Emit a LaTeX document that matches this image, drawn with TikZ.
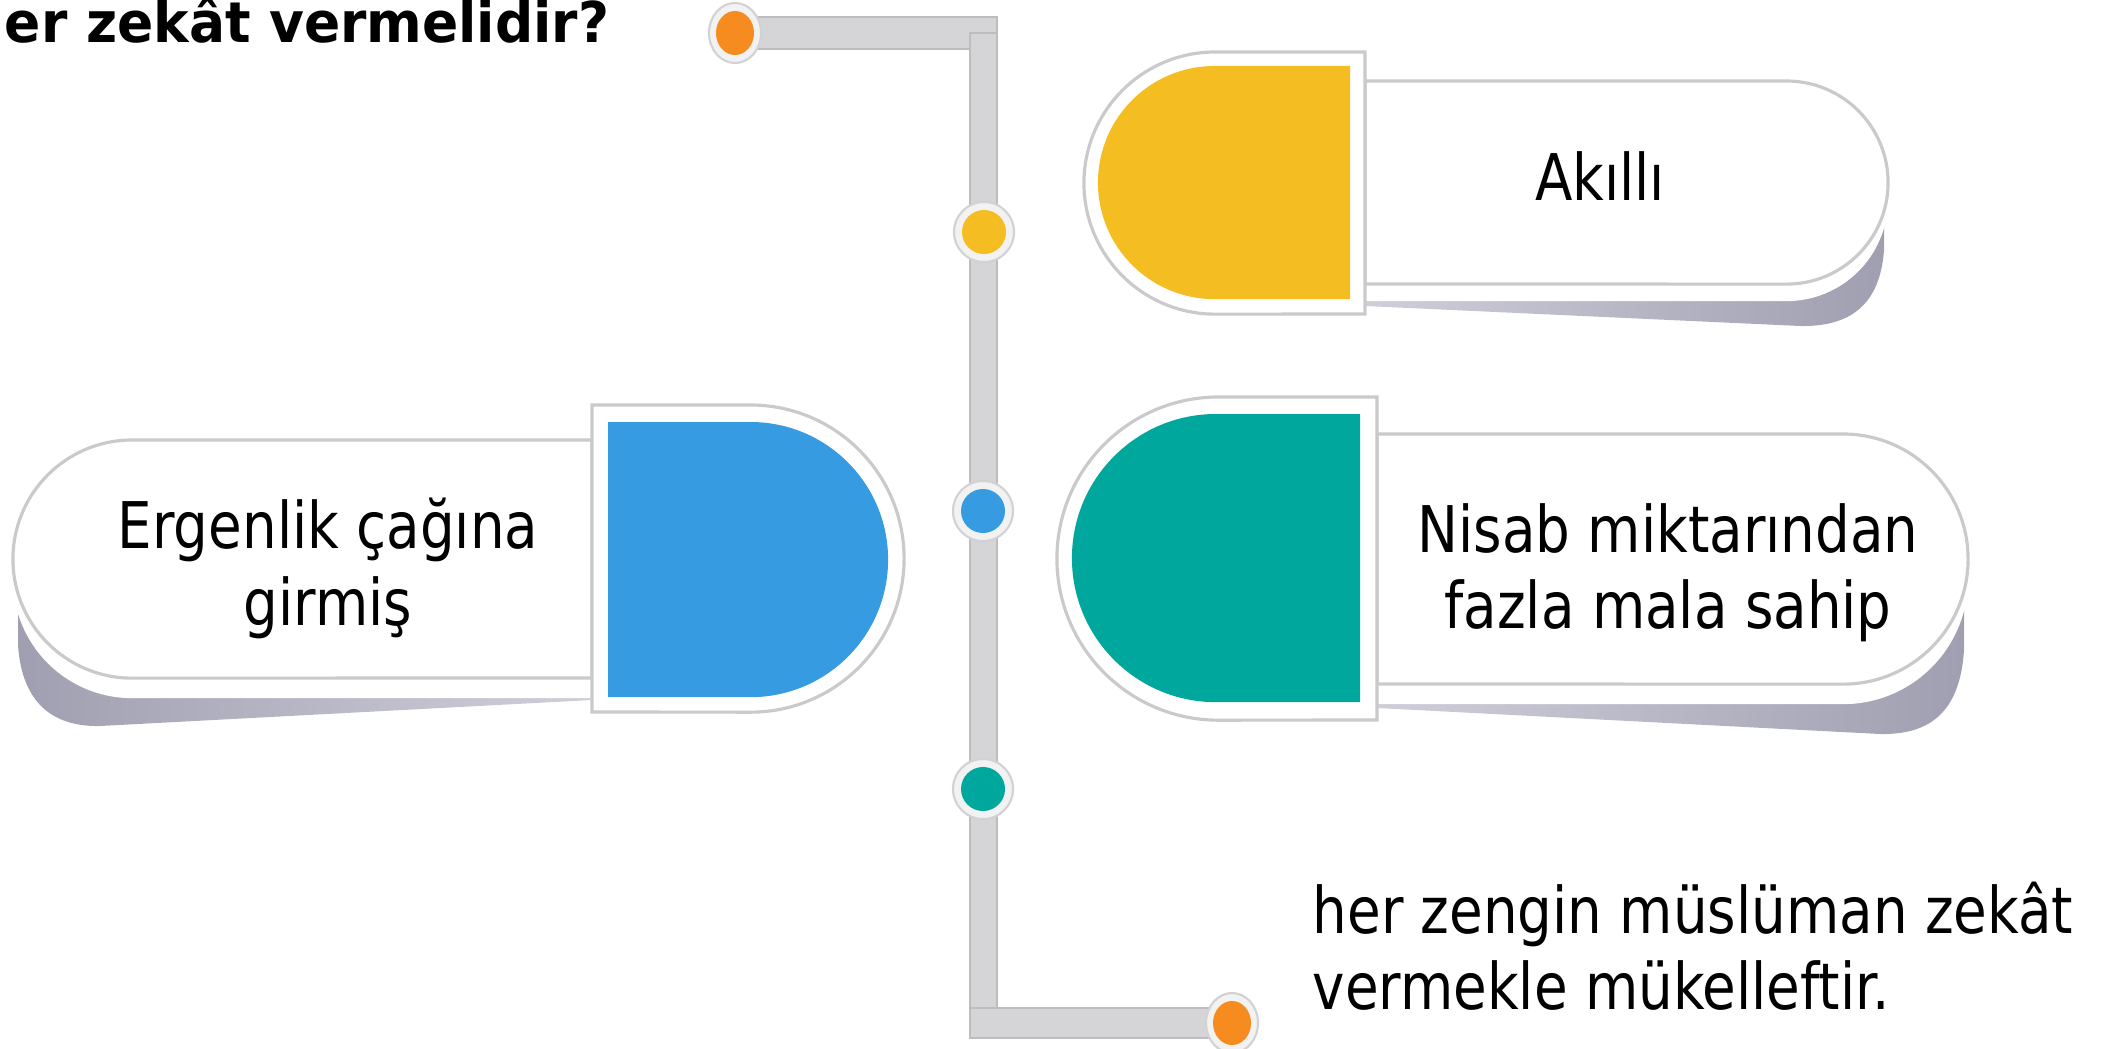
\documentclass[tikz,border=0pt]{standalone}
\usepackage{fontspec}
\setmainfont{DejaVu Sans}[FakeStretch=0.85]
\newfontfamily\titlefont{DejaVu Sans}[FakeStretch=0.95]
\usetikzlibrary{shapes.geometric}
\definecolor{cOrange}{HTML}{F68B1F}
\definecolor{cYellow}{HTML}{F4BE22}
\definecolor{cBlue}{HTML}{369BE1}
\definecolor{cTeal}{HTML}{00A79D}
\definecolor{cLine}{HTML}{CACACC}
\definecolor{cBar}{HTML}{D5D5D7}
\definecolor{cBarEdge}{HTML}{BDBDC0}
\definecolor{cRing}{HTML}{F2F2F2}
\definecolor{cRingEdge}{HTML}{D2D2D4}
\definecolor{shL}{HTML}{CFCED9}
\definecolor{shD}{HTML}{A09FB1}
\tikzset{
  lbl/.style={font=\fontsize{18.3}{22}\selectfont, inner sep=0pt, anchor=base},
  capout/.style={fill=white, draw=cLine, line width=0.9pt},
  pillbox/.style={fill=white, draw=cLine, line width=0.9pt},
  barfill/.style={fill=cBar, draw=cBarEdge, line width=0.4pt},
  dotring/.style={circle, fill=cRing, draw=cRingEdge, line width=0.6pt, minimum size=0.6cm, inner sep=0pt},
  dotcore/.style={circle, minimum size=0.44cm, inner sep=0pt},
  endring/.style={ellipse, fill=cRing, draw=cRingEdge, line width=0.6pt, minimum width=0.52cm, minimum height=0.6cm, inner sep=0pt},
  endcore/.style={ellipse, fill=cOrange, minimum width=0.38cm, minimum height=0.44cm, inner sep=0pt},
}
\begin{document}
\begin{tikzpicture}[x=0.01cm,y=-0.01cm]
\useasboundingbox (0,0) rectangle (2125,1049);

% ---------- title ----------
\node[font=\titlefont\bfseries\fontsize{16}{19}\selectfont, anchor=base east, inner sep=0pt] (title) at (610,43) {er zekât vermelidir?};

% ---------- timeline bars ----------
\coordinate (tl) at (735,33);
\coordinate (br) at (1232,1023);
\filldraw[barfill] (735,17) rectangle (997,49);
\filldraw[barfill] (970,33) rectangle (997,1023);
\filldraw[barfill] (970,1008) rectangle (1232,1038);
\fill[cBar] (971,34) rectangle (996,48);
\fill[cBar] (971,1009) rectangle (996,1022);

% ---------- box 1 : Akilli ----------
\path[left color=shL, right color=shD] (1365,200) -- (1365,306) -- (1800,326) .. controls (1850,327) and (1880,305) .. (1884,250) -- (1884,200) -- cycle;
\fill[white] (1365,98) -- (1786.5,98) arc[start angle=90,end angle=-90,radius=1.015cm] -- (1365,301) -- cycle;
\draw[pillbox] (1365,81) -- (1786.5,81) arc[start angle=90,end angle=-90,radius=1.015cm] -- (1365,284) -- cycle;
\draw[capout] (1365,52) -- (1215,52) arc[start angle=90,end angle=270,radius=1.31cm] -- (1365,314) -- cycle;
\fill[cYellow] (1350,66) -- (1214.5,66) arc[start angle=90,end angle=270,radius=1.165cm] -- (1350,299) -- cycle;
\node[lbl] (t1) at (1600,201) {Akıllı};

% ---------- box 2 : Nisab ----------
\path[left color=shL, right color=shD] (1377,560) -- (1377,708) -- (1880,734) .. controls (1930,735) and (1960,712) .. (1964,650) -- (1964,560) -- cycle;
\fill[white] (1377,454) -- (1843,454) arc[start angle=90,end angle=-90,radius=1.25cm] -- (1377,704) -- cycle;
\draw[pillbox] (1377,434) -- (1843,434) arc[start angle=90,end angle=-90,radius=1.25cm] -- (1377,684) -- cycle;
\draw[capout] (1377,397) -- (1218.5,397) arc[start angle=90,end angle=270,radius=1.615cm] -- (1377,720) -- cycle;
\fill[cTeal] (1360,414) -- (1216,414) arc[start angle=90,end angle=270,radius=1.44cm] -- (1360,702) -- cycle;
\node[lbl] (t2a) at (1668,552) {Nisab miktarından};
\node[lbl] (t2b) at (1668,628) {fazla mala sahip};

% ---------- box 3 : Ergenlik ----------
\path[left color=shD, right color=shL] (592,560) -- (592,700) -- (100,726) .. controls (55,727) and (22,705) .. (18,645) -- (18,560) -- cycle;
\fill[white] (592,460) -- (132,460) arc[start angle=90,end angle=270,radius=1.19cm] -- (592,698) -- cycle;
\draw[pillbox] (592,440) -- (132,440) arc[start angle=90,end angle=270,radius=1.19cm] -- (592,678) -- cycle;
\draw[capout] (592,405) -- (750.5,405) arc[start angle=90,end angle=-90,radius=1.535cm] -- (592,712) -- cycle;
\fill[cBlue] (608,422) -- (750.5,422) arc[start angle=90,end angle=-90,radius=1.375cm] -- (608,697) -- cycle;
\node[lbl] (t3a) at (328,548) {Ergenlik çağına};
\node[lbl] (t3b) at (328,625) {girmiş};

% ---------- dots ----------
\node[endring] (e1) at (tl) {};
\node[endcore] (e1c) at (tl) {};
\node[endring] (e2) at (br) {};
\node[endcore] (e2c) at (br) {};
\node[dotring] (d1) at (984,232) {};
\node[dotcore, fill=cYellow] (d1c) at (d1) {};
\node[dotring] (d2) at (983,511) {};
\node[dotcore, fill=cBlue] (d2c) at (d2) {};
\node[dotring] (d3) at (983,789) {};
\node[dotcore, fill=cTeal] (d3c) at (d3) {};

% ---------- bottom note ----------
\node[lbl, anchor=base west] (n1) at (1312,933) {her zengin müslüman zekât};
\node[lbl, anchor=base west] (n2) at (1312,1009) {vermekle mükelleftir.};
\end{tikzpicture}
\end{document}
